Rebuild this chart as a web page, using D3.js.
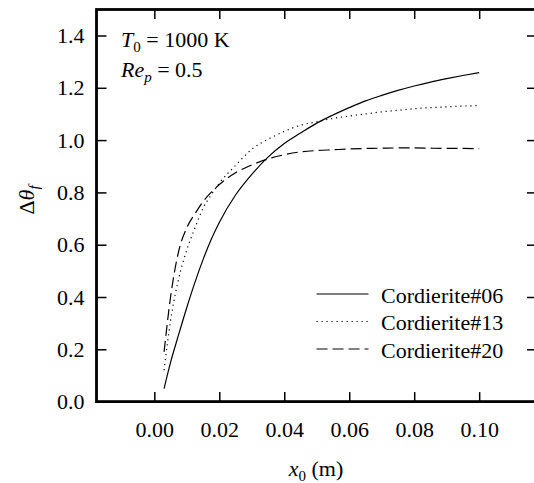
<!DOCTYPE html>
<html>
<head>
<meta charset="utf-8">
<script src="https://cdn.jsdelivr.net/npm/d3@7"></script>
<style>
  body { margin: 0; background: #fff; }
  svg text { font-family: "Liberation Serif", "Times New Roman", Tinos, serif; }
</style>
</head>
<body>
<svg id="chart"></svg>
<script>
// x0 (m) sample positions
const xValues = [0.003, 0.005, 0.0075, 0.010, 0.0125, 0.015, 0.0175, 0.020, 0.025, 0.030, 0.035, 0.040,
  0.045, 0.050, 0.055, 0.060, 0.065, 0.070, 0.075, 0.080, 0.085, 0.090, 0.095, 0.100];

// Δθf for each sample
const cordierite06 = [0.05, 0.15, 0.257, 0.36, 0.456, 0.543, 0.62, 0.685, 0.79, 0.869, 0.935, 0.987,
  1.027, 1.065, 1.096, 1.124, 1.15, 1.171, 1.19, 1.207, 1.222, 1.235, 1.247, 1.258];
const cordierite13 = [0.12, 0.31, 0.47, 0.58, 0.664, 0.74, 0.79, 0.835, 0.903, 0.965, 1.003, 1.033,
  1.057, 1.07, 1.083, 1.092, 1.1, 1.108, 1.114, 1.12, 1.124, 1.127, 1.13, 1.132];
const cordierite20 = [0.19, 0.40, 0.575, 0.665, 0.718, 0.765, 0.80, 0.83, 0.875, 0.905, 0.928, 0.944,
  0.955, 0.96, 0.963, 0.966, 0.968, 0.969, 0.97, 0.97, 0.969, 0.968, 0.968, 0.967];

const seriesNames = ["Cordierite#06", "Cordierite#13", "Cordierite#20"];
const xTicks = [0.00, 0.02, 0.04, 0.06, 0.08, 0.10];
const yTicks = [0.0, 0.2, 0.4, 0.6, 0.8, 1.0, 1.2, 1.4];

const width = 534, height = 483;
const frame = { left: 96.5, right: 537, top: 9.5, bottom: 401.6 };
const fs = 22;

const svg = d3.select("#chart")
  .attr("width", width)
  .attr("height", height)
  .attr("viewBox", [0, 0, width, height])
  .style("display", "block");

// 比例尺
const x = d3.scaleLinear().domain([-0.0178, 0.1178]).range([frame.left, frame.right]);
const y = d3.scaleLinear().domain([0, 1.5]).range([frame.bottom, frame.bottom - 1.5 * 261.5]);

const series = [
  { name: seriesNames[0], values: cordierite06, dash: null },
  { name: seriesNames[1], values: cordierite13, dash: "1.2,3.8" },
  { name: seriesNames[2], values: cordierite20, dash: "11,5" }
];

// 曲线
const line = d3.line()
  .curve(d3.curveMonotoneX)
  .x(d => x(d[0]))
  .y(d => y(d[1]));

svg.append("g")
  .selectAll("path")
  .data(series)
  .join("path")
  .attr("fill", "none")
  .attr("stroke", "#000")
  .attr("stroke-width", 1.2)
  .attr("stroke-dasharray", d => d.dash)
  .attr("d", d => line(d.values.map((v, i) => [xValues[i], v])));

// 坐标轴 (ticks inward on all four sides)
function styleTicks(g) {
  g.attr("font-family", null).attr("font-size", null);
  g.select(".domain").remove();
  g.selectAll("line").attr("stroke-width", 1.5);
  g.selectAll("text").attr("fill", "#000").style("font-size", fs + "px");
}

svg.append("g")
  .attr("transform", `translate(0,${frame.bottom})`)
  .call(d3.axisBottom(x).tickValues(xTicks).tickSize(-9.5).tickPadding(20).tickFormat(d3.format(".2f")))
  .call(styleTicks);

svg.append("g")
  .attr("transform", `translate(0,${frame.top})`)
  .call(d3.axisTop(x).tickValues(xTicks).tickSize(-9.5).tickFormat(""))
  .call(styleTicks);

svg.append("g")
  .attr("transform", `translate(${frame.left},0)`)
  .call(d3.axisLeft(y).tickValues(yTicks).tickSize(-10).tickPadding(12).tickFormat(d3.format(".1f")))
  .call(styleTicks);

svg.append("g")
  .attr("transform", `translate(${frame.right},0)`)
  .call(d3.axisRight(y).tickValues(yTicks).tickSize(-10).tickFormat(""))
  .call(styleTicks);

// 边框
svg.append("rect")
  .attr("x", frame.left).attr("y", frame.top)
  .attr("width", frame.right - frame.left).attr("height", frame.bottom - frame.top)
  .attr("fill", "none")
  .attr("stroke", "#000")
  .attr("stroke-width", 2.8);

// 注释
const note = svg.append("g").style("font-size", fs + "px");
const t1 = note.append("text").attr("x", 121).attr("y", 46.5);
t1.append("tspan").style("font-style", "italic").text("T");
t1.append("tspan").style("font-size", "15px").attr("dy", 5).text("0");
t1.append("tspan").attr("dy", -5).text(" = 1000 K");

const t2 = note.append("text").attr("x", 121).attr("y", 77);
t2.append("tspan").style("font-style", "italic").text("Re");
t2.append("tspan").style("font-style", "italic").style("font-size", "15px").attr("dy", 5).text("p");
t2.append("tspan").attr("dy", -5).text(" = 0.5");

// 图例
const legend = svg.append("g")
  .selectAll("g")
  .data(series)
  .join("g")
  .attr("transform", (d, i) => `translate(0,${294 + i * 27.5})`);

legend.append("line")
  .attr("x1", 316.5).attr("x2", 368.5)
  .attr("stroke", "#000")
  .attr("stroke-width", 1.2)
  .attr("stroke-dasharray", d => d.dash);

legend.append("text")
  .attr("x", 381)
  .attr("y", 8.5)
  .style("font-size", fs + "px")
  .text(d => d.name);

// 轴标题
const xt = svg.append("text")
  .attr("x", 316)
  .attr("y", 476)
  .attr("text-anchor", "middle")
  .style("font-size", fs + "px");
xt.append("tspan").style("font-style", "italic").text("x");
xt.append("tspan").style("font-size", "15px").attr("dy", 5).text("0");
xt.append("tspan").attr("dy", -5).text(" (m)");

const yt = svg.append("text")
  .attr("transform", "translate(34,200) rotate(-90)")
  .attr("text-anchor", "middle")
  .style("font-size", fs + "px");
yt.append("tspan").text("Δ");
yt.append("tspan").style("font-style", "italic").text("θ");
yt.append("tspan").style("font-style", "italic").style("font-size", "15px").attr("dy", 5).text("f");
</script>
</body>
</html>
